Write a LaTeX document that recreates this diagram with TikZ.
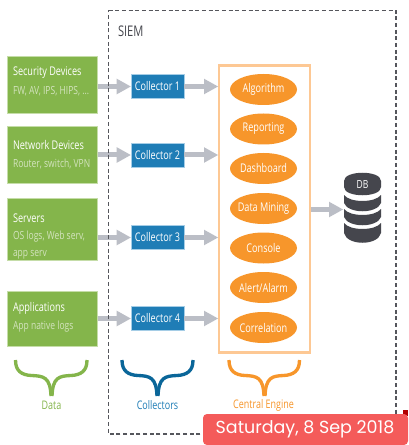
\documentclass[tikz,border=0pt]{standalone}
\usepackage{fontspec}
\setmainfont[FakeStretch=0.76]{Open Sans}
\newfontfamily\datefont{Poppins}
\usetikzlibrary{shapes.geometric}
\definecolor{grn}{HTML}{84B54B}
\definecolor{grnedge}{HTML}{C5DDA8}
\definecolor{blu}{HTML}{1F7DB6}
\definecolor{bluedge}{HTML}{A5CDE6}
\definecolor{bracedk}{HTML}{0A6699}
\definecolor{org}{HTML}{F7962B}
\definecolor{orgedge}{HTML}{FDC894}
\definecolor{arr}{HTML}{BBBEC6}
\definecolor{dbc}{HTML}{45464D}
\definecolor{framec}{HTML}{55565C}
\definecolor{datebg}{HTML}{F45B5A}
\definecolor{subt}{HTML}{D3E3BE}
\newcommand{\etx}[1]{\makebox[0pt]{#1}}
\tikzset{
 x=0.75pt,y=-0.75pt,
 every node/.style={inner sep=0pt,outer sep=0pt},
 srcbox/.style={draw=grnedge,line width=0.5pt,fill=grn,rectangle,minimum width=90pt*0.75,anchor=north west},
 srctitle/.style={anchor=west,text=white,font=\fontsize{9}{10}\selectfont},
 srcsub/.style={anchor=west,text=subt,font=\fontsize{8.4}{10}\selectfont},
 collbox/.style={draw=bluedge,line width=0.5pt,fill=blu,text=white,rectangle,minimum width=53pt*0.75,minimum height=24pt*0.75,font=\fontsize{8.95}{10}\selectfont},
 engine/.style={fill=org,text=white,ellipse,minimum width=67pt*0.75,minimum height=31pt*0.75,font=\fontsize{9}{10}\selectfont},
 flow/.style={line width=5pt*0.75,draw=arr},
 headtip/.style={fill=arr,draw=none},
 bracelabel/.style={font=\fontsize{8.85}{10}\selectfont},
 bracestroke/.style={line width=2.5pt,line cap=butt},
}
\begin{document}
\begin{tikzpicture}
\useasboundingbox (0,0) rectangle (409,445);
\fill[white] (0,0) rectangle (409,445);
\node[anchor=west,text=dbc,font=\fontsize{11}{12}\selectfont] (siem) at (118,31.5) {SIEM};
% Sources
\node[srcbox,minimum height=57pt*0.75] (s1) at (7.5,56) {};
\node[srcbox,minimum height=57pt*0.75] (s2) at (7.5,126) {};
\node[srcbox,minimum height=62pt*0.75] (s3) at (7.5,198) {};
\node[srcbox,minimum height=55pt*0.75] (s4) at (7.5,291) {};
\node[srctitle] (t1) at (13,73) {Security Devices};
\node[srcsub] (u1) at (13,91.5) {FW, AV, IPS, HIPS, ...};
\node[srctitle] (t2) at (13,145) {Network Devices};
\node[srcsub] (u2) at (13,164) {Router, switch, VPN};
\node[srctitle] (t3) at (13,218) {Servers};
\node[srcsub] (u3) at (13,236.5) {OS logs, Web serv,};
\node[srcsub] (u3b) at (13,255) {app serv};
\node[srctitle] (t4) at (13,308.5) {Applications};
\node[srcsub] (u4) at (13,327) {App native logs};
% Collectors
\node[collbox] (c1) at (157.5,86.5) {Collector 1};
\node[collbox] (c2) at (157.5,155) {Collector 2};
\node[collbox] (c3) at (157.5,237.5) {Collector 3};
\node[collbox] (c4) at (157.5,318.5) {Collector 4};
% Engine
\node[draw=orgedge,line width=2pt,rectangle,minimum width=91pt*0.75,minimum height=287pt*0.75,anchor=north west] (eng) at (219,65.5) {};
\node[engine] (e1) at (263.5,89.5) {\etx{Algorithm}};
\node[engine] (e2) at (263.5,129) {\etx{Reporting}};
\node[engine] (e3) at (263.5,168.5) {\etx{Dashboard}};
\node[engine] (e4) at (263.5,208.5) {\etx{Data Mining}};
\node[engine] (e5) at (263.5,248) {\etx{Console}};
\node[engine] (e6) at (263.5,287.5) {\etx{Alert/Alarm}};
\node[engine] (e7) at (263.5,327.5) {\etx{Correlation}};
% Arrows
\foreach \a/\b in {s1/c1,s2/c2,s3/c3,s4/c4}{
 \draw[flow] (\a.east |- \b.west) -- ([xshift=-8pt]\b.west);
 \fill[headtip] ([xshift=-0.2pt]\b.west) -- ++(-14,-7.8) -- ++(0,15.6) -- cycle;
}
\coordinate (r1) at (218,86.5);
\coordinate (r2) at (218,155);
\coordinate (r3) at (218,237.5);
\coordinate (r4) at (218,318.5);
\foreach \b/\r in {c1/r1,c2/r2,c3/r3,c4/r4}{
 \draw[flow] (\b.east) -- ([xshift=-8pt]\r);
 \fill[headtip] (\r) -- ++(-14,-7.8) -- ++(0,15.6) -- cycle;
}
\coordinate (dbin) at (343,209.5);
\draw[flow] ([xshift=1pt]eng.east |- dbin) -- ([xshift=-8pt]dbin);
\fill[headtip] (dbin) -- ++(-14,-7.8) -- ++(0,15.6) -- cycle;
% SIEM frame
\draw[framec,line width=0.8pt,dash pattern=on 3pt off 2pt] (108.5,10.5) -- (396,10.5) -- (396,434) -- (108.5,434) -- cycle;
% DB
\fill[dbc] (344,181) .. controls (344,170) and (381,170) .. (381,181) -- (381,187) .. controls (381,198) and (344,198) .. (344,187) -- cycle;
\fill[dbc] (344,195) .. controls (350,203) and (375,203) .. (381,195) -- (381,203) .. controls (377,214) and (348,214) .. (344,203) -- cycle;
\fill[dbc] (344,209) .. controls (350,217) and (375,217) .. (381,209) -- (381,217) .. controls (377,228) and (348,228) .. (344,217) -- cycle;
\fill[dbc] (344,223) .. controls (350,231) and (375,231) .. (381,223) -- (381,233) .. controls (378,246) and (347,246) .. (344,233) -- cycle;
\node[text=white,font=\fontsize{8.4}{10}\selectfont] (db) at (362.5,185) {DB};
% Braces
\foreach \col/\l/\m/\r in {grn/15.5/51.5/87, bracedk/122/157.5/193, org/229/264.5/299.5}{
 \draw[\col,bracestroke] (\l,360) .. controls (\l,371) and (\l+6,375) .. (\l+16,375.5) .. controls (\m-8,376) and (\m-1.2,377) .. (\m-0.5,396);
 \draw[\col,bracestroke] (\r,360) .. controls (\r,371) and (\r-6,375) .. (\r-16,375.5) .. controls (\m+8,376) and (\m+1.2,377) .. (\m+0.5,396);
}
\node[bracelabel,text=grn] (ld) at (51.5,405.5) {Data};
\node[bracelabel,text=blu] (lc) at (157.5,405.5) {Collectors};
\node[bracelabel,text=org] (le) at (263.5,405.5) {Central Engine};
% Date badge
\fill[red!70!black] (403,410) rectangle (408,416);
\fill[datebg,rounded corners=3pt] (203,414) rectangle (408,445);
\node[text=white,font=\datefont\fontsize{13.1}{15}\selectfont] (date) at (305,429.5) {Saturday, 8 Sep 2018};
\end{tikzpicture}
\end{document}
